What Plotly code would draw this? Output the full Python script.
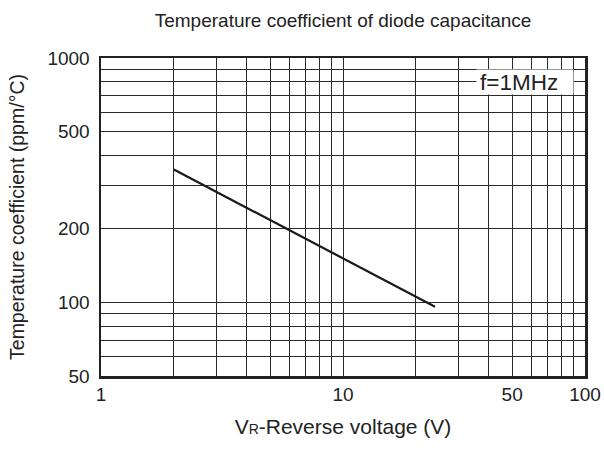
import plotly.graph_objects as go

# Data
voltage = [2, 24]
temp_coeff = [350, 96]

x_tick_vals = [1, 2, 3, 4, 5, 6, 7, 8, 9, 10, 20, 30, 40, 50, 60, 70, 80, 90, 100]
x_tick_text = ["1", "", "", "", "", "", "", "", "", "10", "", "", "", "50", "", "", "", "", "100"]
y_tick_vals = [50, 60, 70, 80, 90, 100, 200, 300, 400, 500, 600, 700, 800, 900, 1000]
y_tick_text = ["50", "", "", "", "", "100", "200", "", "", "500", "", "", "", "", "1000"]

FONT = "Liberation Sans, Arial, sans-serif"

fig = go.Figure()
fig.add_trace(go.Scatter(x=voltage, y=temp_coeff, mode="lines",
                         line=dict(color="#1a1a1a", width=2.2), showlegend=False))

fig.update_layout(
    width=604, height=449,
    margin=dict(l=101, r=19, t=58, b=73),
    paper_bgcolor="white", plot_bgcolor="white",
    font=dict(family=FONT, color="#222", size=19),
    title=dict(text="Temperature coefficient of diode capacitance",
               x=0.568, xanchor="center", y=0.955, yanchor="middle",
               font=dict(size=19, family=FONT, color="#222")),
    xaxis=dict(type="log", range=[0, 2], tickvals=x_tick_vals, ticktext=x_tick_text,
               showgrid=True, gridcolor="#2a2a2a", gridwidth=1, automargin=False,
               showline=True, linecolor="#222", linewidth=2.5, mirror=True,
               ticks="", tickfont=dict(size=19),
               title=dict(text="V<span style='font-size:14px'>R</span>-Reverse voltage (V)",
                          font=dict(size=21), standoff=15),
               zeroline=False),
    yaxis=dict(type="log", range=[1.69897, 3], tickvals=y_tick_vals, ticktext=y_tick_text,
               showgrid=True, gridcolor="#2a2a2a", gridwidth=1, automargin=False,
               showline=True, linecolor="#222", linewidth=2.5, mirror=True,
               ticks="", tickfont=dict(size=19), ticklabelstandoff=5,
               title=dict(text="Temperature coefficient (ppm/°C)", font=dict(size=19.5), standoff=18),
               zeroline=False),
)

fig.add_annotation(text="f=1MHz", xref="paper", yref="paper",
                   x=0.875, y=0.926, xanchor="center", yanchor="middle",
                   width=90, height=18, align="left",
                   showarrow=False, bgcolor="white", borderpad=3,
                   font=dict(size=22.5, family=FONT, color="#222"))

fig.write_html("out.html",
               config={"displayModeBar": False, "staticPlot": True},
               post_script="document.body.style.margin='0';document.body.style.overflow='hidden';")
